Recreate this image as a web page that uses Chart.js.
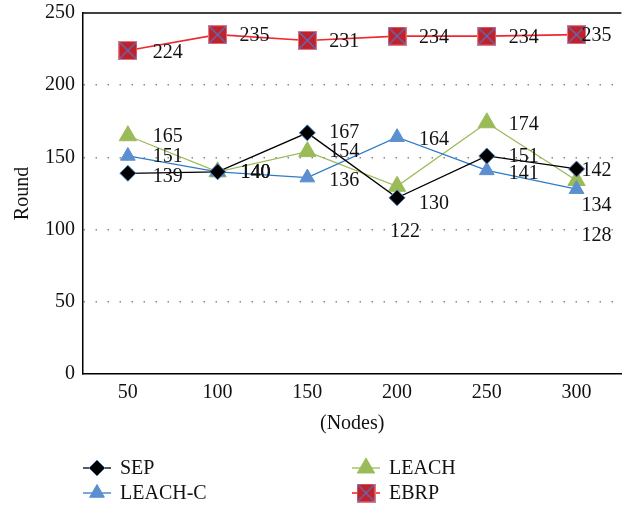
<!DOCTYPE html>
<html><head><meta charset="utf-8">
<script src="https://cdn.jsdelivr.net/npm/chart.js@4/dist/chart.umd.min.js"></script>
<style>html,body{margin:0;padding:0;background:#fff}#wrap{width:633px;height:511px}</style>
</head><body><div id="wrap"><canvas id="c" width="633" height="511"></canvas></div>
<script>
const categories = ['50','100','150','200','250','300'];
const sep = [139,140,167,122,151,142];
const leachC = [151,140,136,164,141,128];
const leach = [165,140,154,130,174,134];
const ebrp = [224,235,231,234,234,235];
const yTicks = [0,50,100,150,200,250];

// label nudges (layout only): [dx, dy] per point
const nudgeSep = [[25,3],[23,1],[22,0],[-7,34],[22,1],[5,2]];
const nudgeLeachC = [[25,1],[23,1],[22,3],[22,3],[22,3],[5,47]];
const nudgeLeach = [[25,1],[23,1],[22,0],[22,17],[22,2],[5,25]];
const nudgeEbrp = [[25,2],[22,1],[22,1],[22,2],[22,2],[5,1]];

const FONT = '"Liberation Serif", "Times New Roman", serif';
const FS = 20;

function ebrpMarker(){
  const s = 19, cv = document.createElement('canvas');
  cv.width = s; cv.height = s;
  const g = cv.getContext('2d');
  g.fillStyle = '#C0222C'; g.fillRect(0,0,s,s);
  g.strokeStyle = '#E07A80'; g.lineWidth = 1; g.strokeRect(0.5,0.5,s-1,s-1);
  g.strokeStyle = '#5A6FC0'; g.lineWidth = 1.3;
  g.beginPath(); g.moveTo(1,1); g.lineTo(s-1,s-1); g.moveTo(s-1,1); g.lineTo(1,s-1); g.stroke();
  return cv;
}
const ebrpImg = ebrpMarker();

const datasets = [
  {label:'SEP', data:sep, nudge:nudgeSep, borderColor:'#000', borderWidth:1.3,
   pointStyle:'rectRot', pointRadius:8, pointBackgroundColor:'#000', pointBorderColor:'#4F81BD', pointBorderWidth:1},
  {label:'LEACH-C', data:leachC, nudge:nudgeLeachC, borderColor:'#2E7CC7', borderWidth:1.3,
   pointStyle:'triangle', pointRadius:8.5, pointBackgroundColor:'#5B8FD0', pointBorderColor:'#5B8FD0', pointBorderWidth:1},
  {label:'LEACH', data:leach, nudge:nudgeLeach, borderColor:'#9BBB59', borderWidth:1.3,
   pointStyle:'triangle', pointRadius:10, pointBackgroundColor:'#9BBB59', pointBorderColor:'#9BBB59', pointBorderWidth:1},
  {label:'EBRP', data:ebrp, nudge:nudgeEbrp, borderColor:'#EE2A30', borderWidth:1.6,
   pointStyle:ebrpImg, pointRadius:10}
].map(d => Object.assign({fill:false, tension:0, pointHoverRadius:d.pointRadius}, d));

const framePlugin = {
  id:'frame',
  afterDatasetsDraw(chart){
    const ctx = chart.ctx, a = chart.chartArea;
    ctx.save();
    ctx.strokeStyle = '#000'; ctx.lineWidth = 1.5;
    ctx.beginPath(); ctx.moveTo(a.left, a.top); ctx.lineTo(a.right, a.top); ctx.stroke();
    ctx.font = FS + 'px ' + FONT; ctx.fillStyle = '#111'; ctx.textBaseline = 'middle'; ctx.textAlign = 'left';
    chart.data.datasets.forEach((ds, i) => {
      const meta = chart.getDatasetMeta(i);
      meta.data.forEach((pt, j) => {
        const n = ds.nudge[j];
        ctx.fillText(String(ds.data[j]), pt.x + n[0], pt.y + n[1]);
      });
    });
    ctx.restore();
  },
  afterDraw(chart){
    const ctx = chart.ctx;
    const cols = [83, 352], rows = [468, 493];
    ctx.save();
    ctx.font = FS + 'px ' + FONT; ctx.textBaseline = 'middle';
    chart.data.datasets.forEach((ds, i) => {
      const x = cols[Math.floor(i/2)], y = rows[i%2];
      ctx.strokeStyle = ds.borderColor; ctx.lineWidth = ds.borderWidth;
      ctx.beginPath(); ctx.moveTo(x, y); ctx.lineTo(x+28, y); ctx.stroke();
      ctx.save();
      ctx.fillStyle = ds.pointBackgroundColor || '#000'; ctx.strokeStyle = ds.pointBorderColor || '#000';
      ctx.lineWidth = ds.pointBorderWidth || 0;
      Chart.helpers.drawPoint(ctx, {pointStyle: ds.pointStyle, radius: ds.pointRadius, rotation:0,
        borderWidth: ds.pointBorderWidth || 0}, x+14, y);
      ctx.restore();
      ctx.fillStyle = '#111';
      ctx.fillText(ds.label, x+37, y+1);
    });
    ctx.restore();
  }
};

new Chart(document.getElementById('c'), {
  type:'line',
  data:{labels:categories, datasets},
  plugins:[framePlugin],
  options:{
    responsive:false, animation:false, devicePixelRatio:1,
    layout:{padding:{top:13, right:9, bottom:71, left:0}},
    plugins:{legend:{display:false}, tooltip:{enabled:false}},
    scales:{
      x:{
        offset:true,
        grid:{display:false, drawTicks:false, offset:true},
        border:{display:true, color:'#000', width:1.5},
        ticks:{font:{family:FONT, size:FS}, color:'#111', padding:7, maxRotation:0},
        title:{display:true, text:'(Nodes)', font:{family:FONT, size:FS}, color:'#111', padding:{top:4, bottom:4}},
        afterFit(s){ s.height = 66; s.paddingLeft = 0; s.paddingRight = 0; }
      },
      y:{
        min:0, max:250,
        afterBuildTicks(s){ s.ticks = yTicks.map(v => ({value:v})); },
        grid:{drawTicks:false, color:c => (c.tick && (c.tick.value===0 || c.tick.value===250)) ? 'rgba(0,0,0,0)' : '#8a8a8a', lineWidth:1.5},
        border:{display:true, color:'#000', width:1.5, dash:[1.5,10.5]},
        ticks:{font:{family:FONT, size:FS}, color:'#111', padding:8},
        title:{display:true, text:'Round', font:{family:FONT, size:FS}, color:'#111', padding:{top:11, bottom:4}},
        afterFit(s){ s.width = 83; s.paddingTop = 0; s.paddingBottom = 0; }
      }
    }
  }
});
</script></body></html>
